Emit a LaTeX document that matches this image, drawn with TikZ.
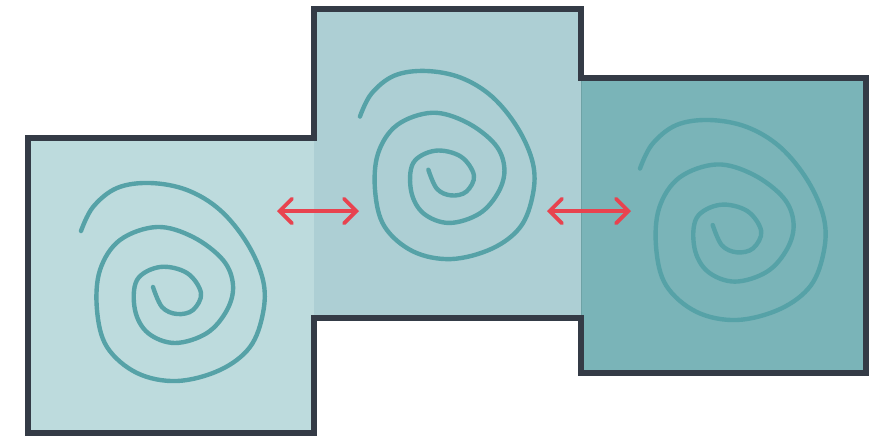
\documentclass[tikz,border=0pt]{standalone}
\definecolor{panelLight}{RGB}{189,219,221}
\definecolor{panelMid}{RGB}{173,207,212}
\definecolor{panelDark}{RGB}{122,180,184}
\definecolor{spiralTeal}{RGB}{86,162,167}
\definecolor{frameSlate}{RGB}{52,59,70}
\definecolor{swapRed}{RGB}{232,67,79}
\usepackage{tikz}
\usetikzlibrary{arrows.meta,positioning,calc}
\tikzset{
  spiral/.pic={
    \draw[spiralTeal, line width=2.5pt, line cap=round]
      plot[smooth, tension=0.6] coordinates {
        (-99,-51) (-87,-75) (-63,-94) (-30,-99) (7,-92) (40,-72) (67,-39)
        (83,-2) (83,31) (70,65) (40,88) (-3,99) (-43,91) (-73,65) (-83,28)
        (-80,-12) (-60,-42) (-23,-55) (13,-45) (43,-22) (53,3) (47,28)
        (27,51) (-5,61) (-32,51) (-45,28) (-43,-2) (-20,-15) (7,-9)
        (21,11) (13,28) (-3,32) (-18,25) (-27,5)};
  }
}

\begin{document}
\begin{tikzpicture}[x=0.02cm, y=-0.02cm,
  frame/.style={draw=frameSlate, line width=3.4pt, line join=miter},
  swap/.style={swapRed, line width=2.2pt, line cap=round,
    {Straight Barb[length=7pt, width=14pt, line cap=round]}-{Straight Barb[length=7pt, width=14pt, line cap=round]}}]
  \useasboundingbox (0,0) rectangle (886,437);
  % Panels
  \fill[panelLight] (28,138) rectangle (314,433);
  \fill[panelMid] (314,9) rectangle (581,318);
  \fill[panelDark] (581,78) rectangle (866,373);
  \draw[panelDark!90!black, line width=0.4pt] (581.5,78) -- (581.5,373);
  % Spirals
  \pic at (180,282) {spiral};
  \pic[scale=0.95] at (454,165) {spiral};
  \pic[scale=1.01] at (740,220) {spiral};
  % Swaps
  \coordinate (l1) at (277,211);
  \coordinate (r1) at (359,211);
  \coordinate (l2) at (547,211);
  \coordinate (r2) at (631,211);
  \draw[swap] (l1) -- (r1);
  \draw[swap] (l2) -- (r2);
  % Outline
  \draw[frame] (28,138) -- (314,138) -- (314,9) -- (581,9) -- (581,78)
    -- (866,78) -- (866,373) -- (581,373) -- (581,318) -- (314,318)
    -- (314,433) -- (28,433) -- cycle;
\end{tikzpicture}
\end{document}
